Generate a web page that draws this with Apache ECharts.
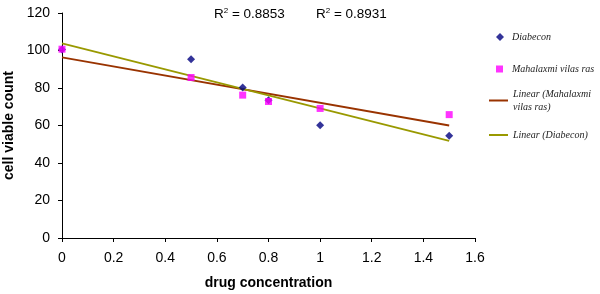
<!DOCTYPE html>
<html>
<head>
<meta charset="utf-8">
<script src="https://cdn.jsdelivr.net/npm/echarts@6/dist/echarts.min.js"></script>
<style>
  html, body { margin: 0; padding: 0; background: #fff; }
  #myChart { width: 600px; height: 294px; }
</style>
</head>
<body>
<div id="myChart"></div>
<script>
// data
var concentration = [0, 0.5, 0.7, 0.8, 1.0, 1.5];
var diabecon = [100.5, 95.3, 80.3, 73.5, 60.2, 54.6];
var mahalaxmi = [100.7, 85.6, 76.2, 72.8, 69.1, 65.8];
// fitted trend lines as drawn (end points)
var trendX = [0, 1.5];
var diabeconTrend = [103.8, 51.8];
var mahalaxmiTrend = [96.3, 60.0];
var rSquared = ['0.8853', '0.8931'];
var xTicks = { min: 0, max: 1.6, interval: 0.2 };
var yTicks = { min: 0, max: 120, interval: 20 };

function pairs(xs, ys) {
  return xs.map(function (x, i) { return [x, ys[i]]; });
}

var chartInst = echarts.init(document.getElementById('myChart'));

var legendText = {
  fontFamily: 'Liberation Serif',
  fontStyle: 'italic',
  fontSize: 10,
  color: '#222'
};

function oneLegend(name, top, left, icon, w, h, extra) {
  return {
    data: [{ name: name, icon: icon }],
    left: left,
    top: top,
    itemWidth: w,
    itemHeight: h,
    padding: 0,
    selectedMode: false,
    textStyle: Object.assign({}, legendText, extra || {})
  };
}

var rStyle = {
  fontFamily: 'Liberation Sans', fontSize: 13.5, fontWeight: 'normal', color: '#000',
  rich: { sup: { fontSize: 8, verticalAlign: 'top', padding: [0, 0, 7, 0], color: '#000' } }
};

chartInst.setOption({
  animation: false,
  textStyle: { fontFamily: 'Liberation Sans' },
  grid: { left: 62, right: 125, top: 13, bottom: 56, outerBoundsMode: 'none', containLabel: false },
  title: [
    { text: 'R{sup|2} = ' + rSquared[0], left: 214, top: 7, padding: 0, textStyle: rStyle },
    { text: 'R{sup|2} = ' + rSquared[1], left: 316, top: 7, padding: 0, textStyle: rStyle }
  ],
  legend: [
    oneLegend('Diabecon', 32, 496, 'diamond', 8, 8, { padding: [0, 0, 0, 3] }),
    oneLegend('Mahalaxmi vilas ras', 64, 496, 'rect', 7, 7, { padding: [0, 0, 0, 4] }),
    oneLegend('Linear (Mahalaxmi\nvilas ras)', 81, 489, 'rect', 19, 2, { padding: [13, 0, 0, 0], lineHeight: 13 }),
    oneLegend('Linear (Diabecon)', 130, 489, 'rect', 19, 2)
  ],
  xAxis: {
    type: 'value',
    min: xTicks.min,
    max: xTicks.max,
    interval: xTicks.interval,
    name: 'drug concentration',
    nameLocation: 'middle',
    nameGap: 38,
    nameTextStyle: { fontSize: 14, fontWeight: 'bold', color: '#000' },
    axisLine: { show: true, lineStyle: { color: '#000', width: 1 } },
    axisTick: { show: true, length: 4, lineStyle: { color: '#000' } },
    axisLabel: { fontSize: 14, color: '#000', margin: 13 },
    splitLine: { show: false }
  },
  yAxis: {
    type: 'value',
    min: yTicks.min,
    max: yTicks.max,
    interval: yTicks.interval,
    name: 'cell viable count',
    nameLocation: 'middle',
    nameGap: 45,
    nameTextStyle: { fontSize: 14, fontWeight: 'bold', color: '#000' },
    axisLine: { show: true, lineStyle: { color: '#000', width: 1 } },
    axisTick: { show: true, length: 4, lineStyle: { color: '#000' } },
    axisLabel: { fontSize: 14, color: '#000', margin: 12 },
    splitLine: { show: false }
  },
  series: [
    {
      name: 'Diabecon',
      type: 'scatter',
      symbol: 'diamond',
      symbolSize: 8,
      itemStyle: { color: '#000080' },
      data: pairs(concentration, diabecon),
      z: 5
    },
    {
      name: 'Mahalaxmi vilas ras',
      type: 'scatter',
      symbol: 'rect',
      symbolSize: 7,
      itemStyle: { color: '#ff00ff' },
      data: pairs(concentration, mahalaxmi),
      z: 6
    },
    {
      name: 'Linear (Mahalaxmi\nvilas ras)',
      type: 'line',
      symbol: 'none',
      lineStyle: { color: '#993300', width: 1.8 },
      itemStyle: { color: '#993300' },
      data: pairs(trendX, mahalaxmiTrend),
      z: 3
    },
    {
      name: 'Linear (Diabecon)',
      type: 'line',
      symbol: 'none',
      lineStyle: { color: '#999900', width: 1.8 },
      itemStyle: { color: '#999900' },
      data: pairs(trendX, diabeconTrend),
      z: 3
    }
  ]
});
</script>
</body>
</html>
